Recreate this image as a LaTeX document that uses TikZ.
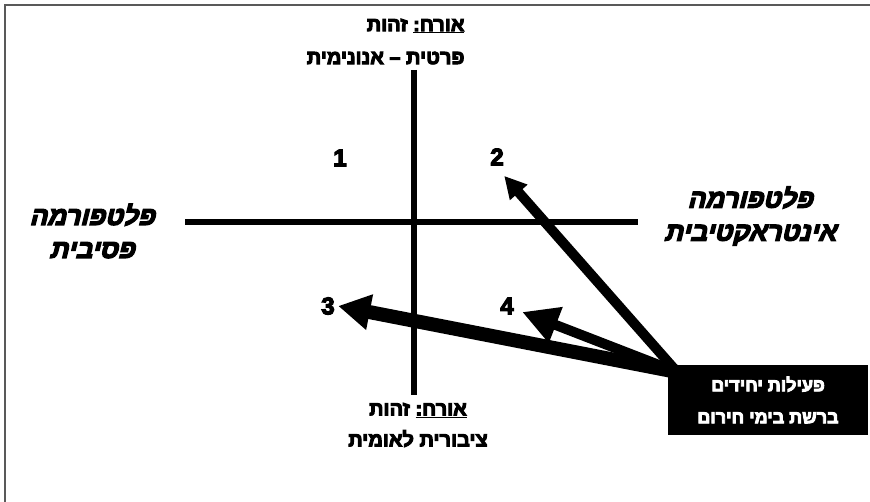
\documentclass[tikz,border=0pt]{standalone}
\usepackage{fontspec}
\usetikzlibrary{arrows.meta}
\newfontfamily\hebfont[Script=Hebrew, FakeBold=5]{Liberation Sans Bold}
\newfontfamily\hebslant[Script=Hebrew, FakeBold=5, FakeSlant=0.25]{Liberation Sans Bold}
\TeXXeTstate=1

\begin{document}
\begin{tikzpicture}[x=1pt, y=-1pt,
    axis/.style={line width=5.5pt},
    guestlbl/.style={font=\hebfont\fontsize{20}{31}\selectfont},
    platlbl/.style={font=\hebslant\fontsize{26}{33}\selectfont, align=center},
    quadnum/.style={font=\hebfont\fontsize{24}{24}\selectfont},
    fatarrow/.style={line width=#1, line cap=butt}]
    % ── Frame ───────────────────────────────────────────────────────────────
    \useasboundingbox (0,0) rectangle (870,502);
    \draw[black!65, line width=2pt] (5,502) -- (5,5) -- (870,5);
    % ── Axes ────────────────────────────────────────────────────────────────
    \draw[axis] (414,70) -- (414,395);
    \draw[axis] (185,222) -- (638,222);
    % ── Axis labels ─────────────────────────────────────────────────────────
    % top label: both lines end at the same right edge
    \node[guestlbl, anchor=east] (guesttop) at (468,26)
      {\beginR\underline{אורח:} זהות\endR};
    \node[guestlbl, anchor=east] (guesttopsub) at (468,58)
      {\beginR פרטית – אנונימית\endR};
    \node[guestlbl, align=center] (guestbot) at (418,425)
      {\beginR\underline{אורח:} זהות\endR\\\beginR ציבורית לאומית\endR};
    \node[platlbl] (passive) at (92,231)
      {\beginR פלטפורמה\endR\\\beginR פסיבית\endR};
    \node[platlbl] (interactive) at (750,216)
      {\beginR פלטפורמה\endR\\\beginR אינטראקטיבית\endR};
    % ── Quadrant numbers ────────────────────────────────────────────────────
    \node[quadnum] (q1) at (340,158) {1};
    \node[quadnum] (q2) at (497,157) {2};
    \node[quadnum] (q3) at (328,306) {3};
    \node[quadnum] (q4) at (507,306) {4};
    % ── Arrows from the activity box ────────────────────────────────────────
    % all three leave the top left corner of the box
    \coordinate (src) at (677,372);
    \draw[fatarrow=14pt, -{Triangle[length=32pt, width=34pt]}]
      (src) -- (q3.east);
    \draw[fatarrow=10pt, -{Triangle[length=36pt, width=36pt]}]
      (src) -- ([shift={(5,6)}]q4.east);
    \draw[fatarrow=10pt, -{Triangle[length=22pt, width=22pt]}]
      (src) -- ([shift={(-3,7)}]q2.south east);
    % ── Activity box ────────────────────────────────────────────────────────
    \node[fill=black, text=white, minimum width=200pt, minimum height=70pt,
      font=\hebfont\fontsize{18}{32}\selectfont, align=center]
      (crisis) at (768,400)
      {\beginR פעילות יחידים\endR\\\beginR ברשת בימי חירום\endR};
  \end{tikzpicture}
\end{document}
